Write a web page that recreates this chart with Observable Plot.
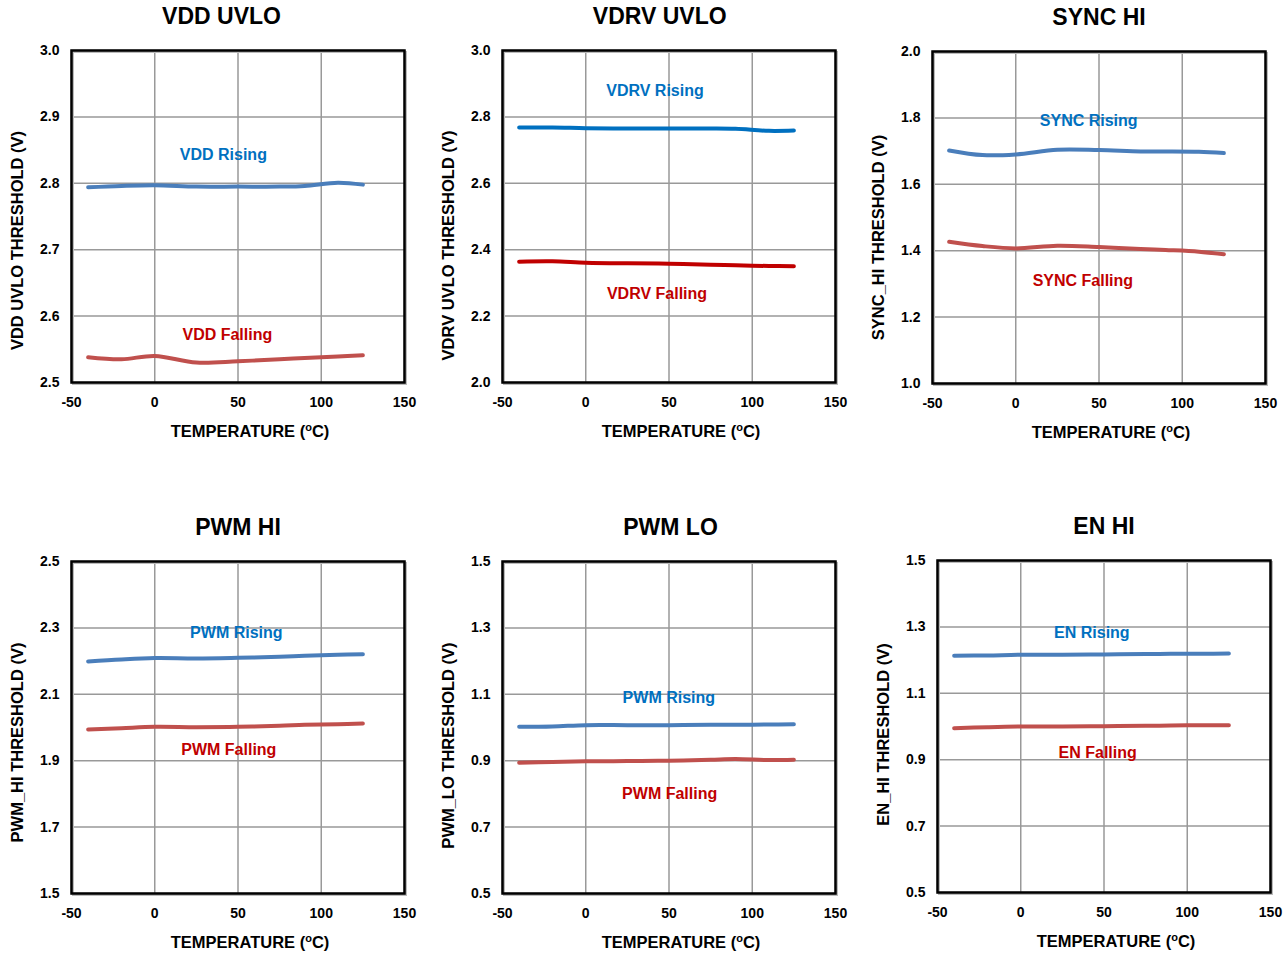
<!DOCTYPE html>
<html>
<head>
<meta charset="utf-8">
<script src="https://cdn.jsdelivr.net/npm/d3@7"></script>
<script src="https://cdn.jsdelivr.net/npm/@observablehq/plot@0.6"></script>
<style>
  html, body { margin: 0; padding: 0; background: #fff; overflow: hidden; }
  #root { position: relative; width: 1288px; height: 956px; overflow: hidden; }
  .panel { position: absolute; }
  .panel svg { max-width: none !important; }
</style>
</head>
<body>
<div id="root"></div>
<script>
// ---------- data ----------
const temps = [-40, -20, 0, 25, 50, 75, 90, 110, 125];
const xTicks = [-50, 0, 50, 100, 150];
const xLabel = "TEMPERATURE (oC)";

const titles = ["VDD UVLO", "VDRV UVLO", "SYNC HI", "PWM HI", "PWM LO", "EN HI"];
const yLabels = ["VDD UVLO THRESHOLD (V)", "VDRV UVLO THRESHOLD (V)", "SYNC_HI THRESHOLD (V)",
                 "PWM_HI THRESHOLD (V)", "PWM_LO THRESHOLD (V)", "EN_HI THRESHOLD (V)"];
const yDomains = [[2.5, 3.0], [2.0, 3.0], [1.0, 2.0], [1.5, 2.5], [0.5, 1.5], [0.5, 1.5]];
const yTicks = [
  [2.5, 2.6, 2.7, 2.8, 2.9, 3.0],
  [2.0, 2.2, 2.4, 2.6, 2.8, 3.0],
  [1.0, 1.2, 1.4, 1.6, 1.8, 2.0],
  [1.5, 1.7, 1.9, 2.1, 2.3, 2.5],
  [0.5, 0.7, 0.9, 1.1, 1.3, 1.5],
  [0.5, 0.7, 0.9, 1.1, 1.3, 1.5]
];

const vddRising   = [2.794, 2.796, 2.797, 2.795, 2.795, 2.795, 2.796, 2.801, 2.798];
const vddFalling  = [2.538, 2.535, 2.540, 2.530, 2.532, 2.535, 2.537, 2.539, 2.541];
const vdrvRising  = [2.768, 2.768, 2.766, 2.765, 2.765, 2.765, 2.764, 2.758, 2.759];
const vdrvFalling = [2.364, 2.365, 2.361, 2.359, 2.358, 2.355, 2.353, 2.351, 2.350];
const syncRising  = [1.702, 1.688, 1.690, 1.704, 1.703, 1.699, 1.699, 1.698, 1.694];
const syncFalling = [1.427, 1.414, 1.407, 1.415, 1.411, 1.405, 1.402, 1.397, 1.389];
const pwmHiRising  = [2.199, 2.205, 2.209, 2.208, 2.210, 2.213, 2.216, 2.219, 2.221];
const pwmHiFalling = [1.994, 1.998, 2.002, 2.001, 2.002, 2.005, 2.008, 2.010, 2.012];
const pwmLoRising  = [1.002, 1.003, 1.007, 1.007, 1.007, 1.008, 1.008, 1.009, 1.010];
const pwmLoFalling = [0.894, 0.896, 0.898, 0.899, 0.900, 0.903, 0.905, 0.902, 0.903];
const enRising  = [1.213, 1.214, 1.216, 1.216, 1.217, 1.218, 1.219, 1.219, 1.220];
const enFalling = [0.995, 0.998, 1.000, 1.000, 1.001, 1.002, 1.003, 1.004, 1.004];

const risingSeries  = [vddRising, vdrvRising, syncRising, pwmHiRising, pwmLoRising, enRising];
const fallingSeries = [vddFalling, vdrvFalling, syncFalling, pwmHiFalling, pwmLoFalling, enFalling];

const risingNames  = ["VDD Rising", "VDRV Rising", "SYNC Rising", "PWM Rising", "PWM Rising", "EN Rising"];
const fallingNames = ["VDD Falling", "VDRV Falling", "SYNC Falling", "PWM Falling", "PWM Falling", "EN Falling"];
// label anchor points in data coordinates (temperature, volts)
const risingLabelT  = [41.2, 41.6, 43.8, 49.0, 49.9, 42.7];
const risingLabelV  = [2.843, 2.877, 1.791, 2.284, 1.089, 1.283];
const fallingLabelT = [43.6, 42.8, 40.3, 44.5, 50.4, 46.2];
const fallingLabelV = [2.571, 2.266, 1.309, 1.932, 0.801, 0.920];

// ---------- styling / layout ----------
const risingLineColors  = ["#4A7EBB", "#0070C0", "#4A7EBB", "#4A7EBB", "#4A7EBB", "#4A7EBB"];
const fallingLineColors = ["#C0504D", "#C00000", "#C0504D", "#C0504D", "#C0504D", "#C0504D"];
const layout = [
  {left: 0,     top: 0,     titleDx: -16.5, yLabelDy: 24},
  {left: 430.7, top: 0,     titleDx: -9.3,  yLabelDy: 29},
  {left: 861.3, top: 0.7,   titleDx: 0,     yLabelDy: 20},
  {left: 0,     top: 510.7, titleDx: 0,     yLabelDy: 15},
  {left: 430.7, top: 510.7, titleDx: 1.5,   yLabelDy: 18},
  {left: 866,   top: 510,   titleDx: 0,     yLabelDy: 8}
];
const ML = 71, MT = 50, PW = 333, PH = 332, MR = 24, MB = 70;
const FONT = "'Liberation Sans', Arial, Helvetica, sans-serif";

const root = document.getElementById("root");

for (let i = 0; i < 6; i++) {
  const rise = temps.map((t, j) => ({t, v: risingSeries[i][j]}));
  const fall = temps.map((t, j) => ({t, v: fallingSeries[i][j]}));
  const svg = Plot.plot({
    width: ML + PW + MR,
    height: MT + PH + MB,
    marginLeft: ML, marginRight: MR, marginTop: MT, marginBottom: MB,
    style: {fontFamily: FONT, background: "transparent", overflow: "visible", color: "#000", maxWidth: "none"},
    x: {domain: [-50, 150]},
    y: {domain: yDomains[i]},
    marks: [
      Plot.gridX(xTicks, {stroke: "#999", strokeOpacity: 1, strokeWidth: 1.5}),
      Plot.gridY(yTicks[i], {stroke: "#999", strokeOpacity: 1, strokeWidth: 1.5}),
      Plot.frame({stroke: "#bbb", strokeWidth: 2, dx: 1.5, dy: 1.5}),
      Plot.frame({stroke: "#000", strokeWidth: 2.5}),
      Plot.line(rise, {x: "t", y: "v", stroke: risingLineColors[i], strokeWidth: 4, curve: "catmull-rom", strokeLinecap: "round"}),
      Plot.line(fall, {x: "t", y: "v", stroke: fallingLineColors[i], strokeWidth: 4, curve: "catmull-rom", strokeLinecap: "round"}),
      Plot.text([{t: risingLabelT[i], v: risingLabelV[i], s: risingNames[i]}],
        {x: "t", y: "v", text: "s", fill: "#0070C0", fontSize: 16, fontWeight: "bold"}),
      Plot.text([{t: fallingLabelT[i], v: fallingLabelV[i], s: fallingNames[i]}],
        {x: "t", y: "v", text: "s", fill: "#C00000", fontSize: 16, fontWeight: "bold"}),
      Plot.axisX(xTicks, {tickSize: 0, tickPadding: 15, fontSize: 14, fontWeight: "bold",
        tickFormat: d => String(d), label: null}),
      Plot.axisY(yTicks[i], {tickSize: 0, tickPadding: 12, fontSize: 14, fontWeight: "bold",
        tickFormat: d => d.toFixed(1), label: null}),
      Plot.text([titles[i]], {text: d => d, frameAnchor: "top", textAnchor: "middle", lineAnchor: "middle",
        dx: layout[i].titleDx, dy: -34, fontSize: 23, fontWeight: "bold"}),
      Plot.text([yLabels[i]], {text: d => d, frameAnchor: "left", textAnchor: "middle", lineAnchor: "middle",
        rotate: -90, dx: -54, dy: layout[i].yLabelDy, fontSize: 16.5, fontWeight: "bold"}),
      Plot.text([xLabel], {text: d => d, frameAnchor: "bottom", textAnchor: "middle", lineAnchor: "middle",
        dx: 12, dy: 49, fontSize: 16.5, fontWeight: "bold"})
    ]
  });
  // superscript "o" in the temperature unit
  d3.select(svg).selectAll("text").filter(function () { return this.textContent === xLabel; })
    .each(function () {
      const t = d3.select(this);
      t.text(null);
      t.append("tspan").text("TEMPERATURE (");
      t.append("tspan").attr("dy", -6).attr("font-size", "11px").text("o");
      t.append("tspan").attr("dy", 6).text("C)");
    });
  const div = document.createElement("div");
  div.className = "panel";
  div.style.left = layout[i].left + "px";
  div.style.top = layout[i].top + "px";
  div.appendChild(svg);
  root.appendChild(div);
}
</script>
</body>
</html>
